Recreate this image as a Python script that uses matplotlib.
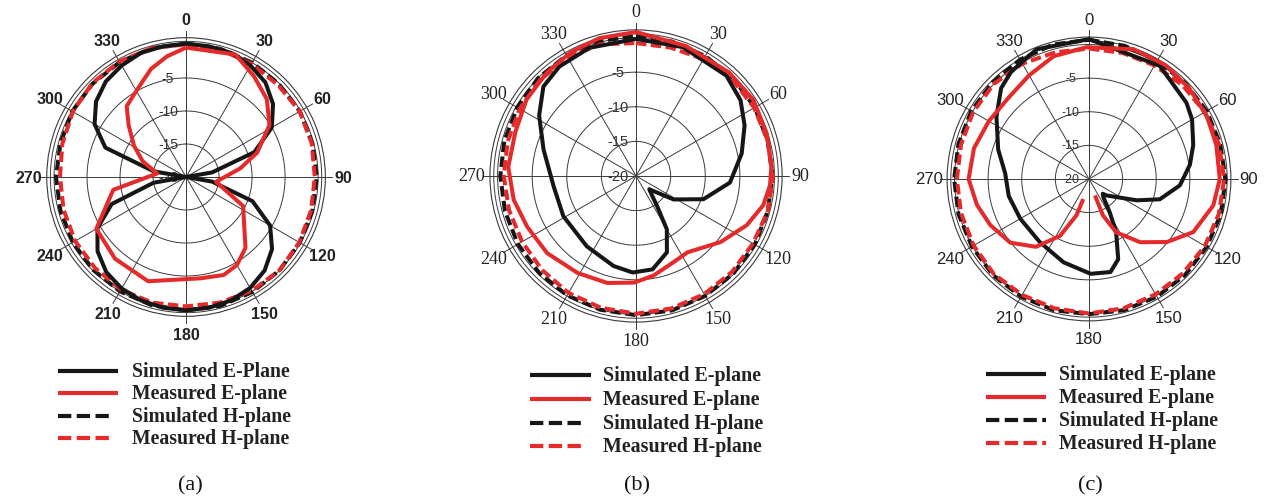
import numpy as np
import matplotlib.pyplot as plt
from matplotlib.lines import Line2D

RED = '#e42a2a'
BLACK = '#161616'
GRID = '#3a3a3a'

W, H = 1267, 502

# ---------------- data (angle in deg, level in dB) ----------------
step15 = list(range(0, 360, 15))
step10 = list(range(0, 360, 10))

# (a)
a_simE_ang = step10
a_simE_db = [0.2, 0.1, 0.0, -0.5, -1.3, -2.8, -5.0, -9.0, -16.0, -20.0,
             -16.0, -9.3, -5.3, -3.0, -1.5, -0.6, -0.1, 0.1, 0.2, 0.1,
             -0.1, -0.5, -1.2, -2.5, -4.5, -8.0, -15.0, -20.0, -15.0, -7.0,
             -4.0, -2.2, -1.1, -0.5, 0.0, 0.1]
a_measE_ang = [0, 22, 34, 46, 58, 71, 81, 99, 117, 140, 150, 159, 172, 200,
               221, 240, 260, 277, 290, 301, 312, 320, 331, 342, 351]
a_measE_db = [-0.4, 0.0, -1.6, -3.0, -5.1, -8.6, -11.7, -15.4, -10.3, -6.0,
              -4.6, -4.1, -4.5, -3.2, -3.6, -4.3, -8.8, -15.6, -13.0, -10.8,
              -8.3, -6.0, -4.8, -2.8, -1.5]
a_simH_ang = step15
a_simH_db = [0.2, 0.1, 0.0, -0.1, -0.1, -0.2, -0.2, -0.2, -0.1, 0.0, 0.1, 0.2,
             0.2, 0.1, 0.0, -0.1, -0.2, -0.3, -0.3, -0.3, -0.1, 0.0, 0.1, 0.2]
a_measH_ang = step15
a_measH_db = [0.1, 0.0, -0.2, -0.3, -0.1, -0.3, -0.5, -0.4, -0.2, 0.0, -0.1, -0.3,
              -0.4, -0.3, -0.3, -0.5, -0.6, -0.8, -0.9, -0.6, -0.2, 0.1, 0.2, 0.2]

# (b)
b_simE_ang = [0, 20, 42, 54, 65, 78, 94, 109, 122, 131, 135, 140, 145, 150,
              158, 170, 182, 194, 215, 241, 263, 286, 302, 314, 325, 340]
b_simE_db = [-0.2, -0.2, -0.5, -1.35, -2.7, -4.4, -6.4, -9.7, -13.6, -16.7,
             -17.3, -16.5, -14.7, -11.1, -8.1, -6.3, -6.05, -6.6, -7.6, -8.0,
             -8.0, -6.1, -3.5, -1.4, -0.7, -0.3]
b_measE_ang = [0, 21, 42, 57, 72, 86, 94, 103, 114, 128, 146, 157, 170, 181,
               195, 211, 229, 245, 259, 274, 290, 305, 319, 332, 345]
b_measE_db = [0.8, 0.1, 0.1, 0.2, -0.15, -0.4, -0.6, -1.15, -2.5, -4.5, -6.7,
              -6.4, -5.4, -4.6, -4.0, -3.65, -3.0, -2.65, -2.0, -1.5, -1.45,
              -0.7, -0.3, 0.2, 0.6]
b_simH_ang = step15
b_simH_db = [0.2, 0.1, 0.0, -0.1, -0.2, -0.3, -0.3, -0.3, -0.2, -0.1, 0.0, 0.1,
             0.1, 0.0, -0.1, -0.2, -0.3, -0.4, -0.4, -0.3, -0.2, 0.0, 0.1, 0.2]
b_measH_ang = step15
b_measH_db = [-0.8, -0.8, -0.5, -0.3, -0.3, -0.3, -0.2, -0.3, -0.5, -0.4, -0.3, -0.2,
              -0.1, -0.3, -0.5, -0.8, -1.0, -1.0, -0.9, -0.8, -0.6, -0.4, -0.2, -0.3]

# (c)
c_simE_ang = [0, 32, 52, 60, 72, 82, 94, 106, 114, 133, 137, 142, 148, 153,
              160, 167, 179, 197, 218, 240, 258, 274, 288, 304, 316, 324, 338]
c_simE_db = [0.8, -0.15, -1.6, -2.3, -3.7, -4.85, -6.45, -9.05, -12.2, -16.4,
             -17.0, -16.5, -14.2, -11.1, -7.3, -5.8, -5.9, -7.05, -8.1, -8.2,
             -7.8, -7.5, -5.8, -3.4, -1.2, -0.3, 0.8]
# open curve, runs clockwise from the left tip round the top to the right tip
c_measE_ang = [196, 199, 207, 218, 231, 245, 257, 270, 285, 300, 315, 330,
               344, 359, 19, 34, 48, 62, 75, 90, 102, 117, 129, 141, 153, 159, 160]
c_measE_db = [-16.9, -14.3, -10.5, -7.2, -4.95, -3.8, -2.9, -2.1, -2.3, -2.8,
              -3.0, -2.2, -1.0, -0.4, 0.4, 0.4, 0.1, -0.15, -0.4, -0.55, -1.1,
              -2.6, -5.1, -7.9, -11.1, -14.2, -17.4]
c_simH_ang = step15
c_simH_db = [0.7, 0.5, 0.3, 0.2, 0.2, 0.2, 0.3, 0.3, 0.2, 0.2, 0.2, 0.2,
             0.1, 0.2, 0.2, 0.2, 0.1, 0.1, 0.05, 0.1, 0.2, 0.3, 0.5, 0.7]
c_measH_ang = step15
c_measH_db = [-0.6, -0.6, -0.5, -0.3, -0.1, 0.0, 0.1, 0.0, -0.1, -0.2, -0.2, -0.1,
              0.0, -0.1, -0.1, 0.0, -0.2, -0.3, -0.35, -0.3, -0.1, 0.0, -0.2, -0.5]

ticks = list(range(0, 360, 30))


def closed(ang, db):
    return np.deg2rad(list(ang) + [ang[0] + 360]), list(db) + [db[0]]


def panel(rect, series, tick_family, tick_weight, tick_size, rlab_size):
    ax = fig.add_axes(rect, projection='polar')
    ax.set_theta_zero_location('N')
    ax.set_theta_direction(-1)
    ax.grid(False)

    ring = np.linspace(0, 2 * np.pi, 240)
    for r in [-15, -10, -5, 0, 0.55]:
        ax.plot(ring, np.full_like(ring, r), color=GRID, lw=0.7, zorder=1)
    for t in ticks:
        ax.plot([np.deg2rad(t)] * 2, [-20, 2.1], color=GRID, lw=0.7,
                zorder=1, clip_on=False)

    for ang, db, col, ls, is_closed in series:
        if is_closed:
            th, r = closed(ang, db)
        else:
            th, r = np.unwrap(np.deg2rad(ang)), db
        ln, = ax.plot(th, r, color=col, lw=2.9, zorder=3,
                      solid_capstyle='butt', dash_capstyle='butt')
        if ls == '--':
            ln.set_dashes((2.6, 1.1))

    for r in [-20, -15, -10, -5]:
        ax.annotate(str(r), xy=(0, r), xytext=(-13, 0), textcoords='offset points',
                    ha='center', va='center', fontsize=rlab_size, color='#333333',
                    family='Liberation Sans', zorder=2)

    ax.set_xticks(np.deg2rad(ticks))
    ax.set_xticklabels([str(t) for t in ticks], family=tick_family,
                       weight=tick_weight, fontsize=tick_size, color='#222222')
    ax.tick_params(axis='x', pad=6, length=0)
    ax.set_yticks([])
    ax.set_ylim(-20, 1.1)
    ax.spines['polar'].set_linewidth(0.8)
    ax.spines['polar'].set_color(GRID)
    return ax


def legend(x0, x1s, x1d, xt, rows, labels, size):
    styles = [(BLACK, '-'), (RED, '-'), (BLACK, '--'), (RED, '--')]
    for (col, ls), y, lab in zip(styles, rows, labels):
        x1 = x1s if ls == '-' else x1d
        ln = Line2D([x0 / W, x1 / W], [1 - y / H] * 2, transform=fig.transFigure,
                    color=col, lw=3, solid_capstyle='butt', dash_capstyle='butt')
        if ls == '--':
            ln.set_dashes((3.2, 1.3))
        fig.add_artist(ln)
        fig.text(xt / W, 1 - y / H, lab, family='Liberation Serif', weight='bold',
                 fontsize=size, color='#222222', ha='left', va='center')


fig = plt.figure(figsize=(W / 100, H / 100), dpi=100)

panel([0.0369, 0.3679, 0.2199, 0.5550],
      [(a_simH_ang, a_simH_db, BLACK, '--', True),
       (a_measH_ang, a_measH_db, RED, '--', True),
       (a_simE_ang, a_simE_db, BLACK, '-', True),
       (a_measE_ang, a_measE_db, RED, '-', True)],
      'Liberation Sans', 'bold', 11.5, 10)
panel([0.3867, 0.3564, 0.2306, 0.5821],
      [(b_simH_ang, b_simH_db, BLACK, '--', True),
       (b_measH_ang, b_measH_db, RED, '--', True),
       (b_simE_ang, b_simE_db, BLACK, '-', True),
       (b_measE_ang, b_measE_db, RED, '-', True)],
      'Liberation Serif', 'normal', 13, 10.5)
panel([0.7475, 0.3588, 0.2240, 0.5653],
      [(c_simH_ang, c_simH_db, BLACK, '--', True),
       (c_measH_ang, c_measH_db, RED, '--', True),
       (c_simE_ang, c_simE_db, BLACK, '-', True),
       (c_measE_ang, c_measE_db, RED, '-', False)],
      'Liberation Sans', 'normal', 12, 9)

legend(58, 118, 110, 132, [372, 394, 417, 439],
       ['Simulated E-Plane', 'Measured E-plane', 'Simulated H-plane', 'Measured H-plane'], 14.2)
legend(530, 591, 583, 603, [376, 400, 424, 447],
       ['Simulated E-plane', 'Measured E-plane', 'Simulated H-plane', 'Measured H-plane'], 14.4)
legend(986, 1046, 1046, 1059, [375, 398, 421, 444],
       ['Simulated E-plane', 'Measured E-plane', 'Simulated H-plane', 'Measured H-plane'], 14.2)

for x, lab in [(190, '(a)'), (637, '(b)'), (1090, '(c)')]:
    fig.text(x / W, 1 - 486 / H, lab, family='Liberation Serif', fontsize=16,
             ha='center', va='center', color='#111111')

fig.savefig('out.png', dpi=100)
